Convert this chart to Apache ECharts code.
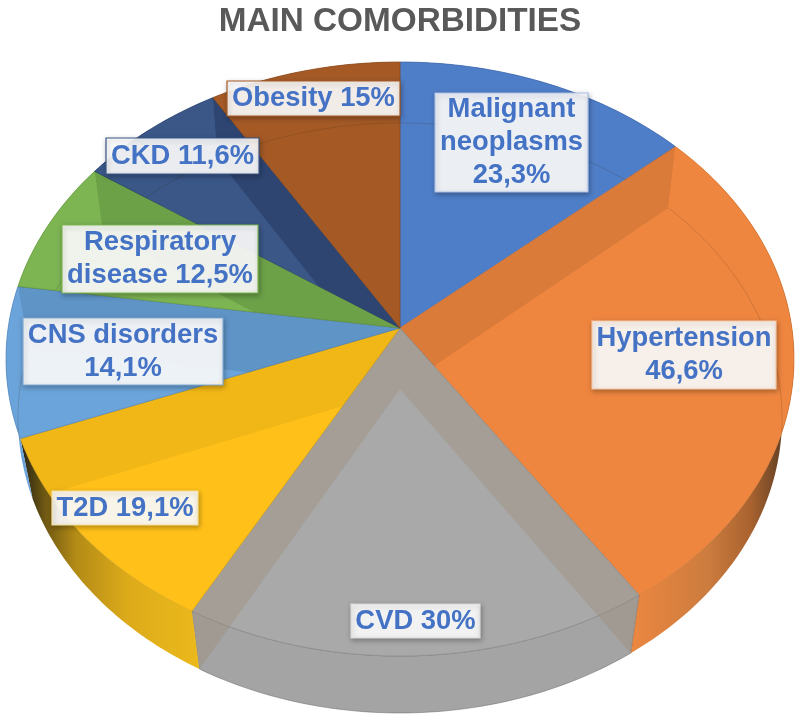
<!DOCTYPE html>
<html><head><meta charset="utf-8">
<style>html,body{margin:0;padding:0;background:#fff}#c{width:800px;height:719px}</style>
<script src="https://cdn.jsdelivr.net/npm/echarts@6/dist/echarts.min.js"></script>
</head><body><div id="c"></div>
<script>
// ---- data ----
const categories = ["Malignant neoplasms","Hypertension","CVD","T2D","CNS disorders","Respiratory disease","CKD","Obesity"];
const values = [23.3,46.6,30,19.1,14.1,12.5,11.6,15];
const labelTexts = ["Malignant\nneoplasms\n23,3%","Hypertension\n46,6%","CVD 30%","T2D 19,1%","CNS disorders\n14,1%","Respiratory\ndisease 12,5%","CKD 11,6%","Obesity 15%"];

// ---- styling / layout ----
const topColors = ["#4F7EC8","#EE8640","#A9A9A9","#FFC119","#6BA4DA","#7DB553","#3A5788","#A55A26"];
const edgeColors = ["#3E66A8","#D9762F","#8A8A8A","#D8A210","#5487BC","#659A42","#2B4370","#8A4A1E"];
const bandColors = ["rgba(70,40,10,.11)","rgba(155,137,115,.35)","rgba(155,137,115,.35)","rgba(120,100,0,.10)","rgba(0,20,50,.11)","rgba(0,30,0,.13)","rgba(0,0,30,.20)","rgba(0,0,0,0)"];
const labelBorders = ["#A9C0E6","#F3C9A8","#D9D9D9","#F5DF9A","#7FA9D2","#7DB553","#3A5788","#A55A26"];
const labelBoxes = [[435,93,153,99],[592,321,184,68],[351,604,129,34],[52,491,146,34],[23,318,200,67],[62,225,196,68],[106,138,153,36],[227,81,173,35]];
// perspective ellipses of the top and bottom faces of the disc
const topFace = {cx:400,cy:359,rx:394,ry:297,d:0.1044};
const botFace = {cx:400,cy:418,rx:382,ry:295,d:0.098};

const total = values.reduce((a,b)=>a+b,0);
const startDeg = i => values.slice(0,i).reduce((a,b)=>a+b,0)/total*360;
function rim(f,deg){
  const t=deg*Math.PI/180,s=Math.sin(t),c=Math.cos(t),den=1+f.d*c;
  return [f.cx+f.rx*s*Math.sqrt(1-f.d*f.d)/den, f.cy-f.ry*(c+f.d)/den];
}
function centre(f){return [f.cx,f.cy-f.ry*f.d];}
function arc(f,a,b){
  const n=Math.max(2,Math.ceil(Math.abs(b-a))),p=[];
  for(let k=0;k<=n;k++)p.push(rim(f,a+(b-a)*k/n));
  return p;
}
function slicePoly(f,i){return [centre(f)].concat(arc(f,startDeg(i),startDeg(i+1)));}
function ownerShape(i){
  const a=startDeg(i),b=startDeg(i+1);
  return [centre(topFace)].concat(arc(topFace,a,a)).concat(arc(botFace,a,b)).concat(arc(topFace,b,b));
}
function wallFill(i){
  if(i===1) return new echarts.graphic.LinearGradient(637,0,795,0,[
    {offset:0,color:"#E98640"},{offset:.45,color:"#CC7C3E"},{offset:.72,color:"#A9622F"},{offset:.9,color:"#6B4526"},{offset:1,color:"#33261A"}],true);
  if(i===3) return new echarts.graphic.LinearGradient(199,0,22,0,[
    {offset:0,color:"#EBB91B"},{offset:.4,color:"#DDAB1A"},{offset:.7,color:"#B28A16"},{offset:.88,color:"#6B5512"},{offset:1,color:"#22201A"}],true);
  if(i===2) return "#A4A4A4";
  return topColors[i];
}
const none=()=>null;
const base={type:"custom",coordinateSystem:"none",silent:true,animation:false,clip:false,data:values.map(v=>[v])};
function layer(z,render){return Object.assign({},base,{z:z,renderItem:render});}

const series=[
  // outer walls
  layer(1,(p)=>{const i=p.dataIndex,a=startDeg(i),b=startDeg(i+1);
    const pts=arc(topFace,a,b).concat(arc(botFace,b,a));
    return {type:"polygon",shape:{points:pts},style:{fill:wallFill(i),stroke:i===2?"rgba(90,90,90,.55)":"rgba(0,0,0,0)",lineWidth:.8}};}),
  // top faces, angles proportional to the values
  layer(2,(p,api)=>{const i=p.dataIndex;
    return {type:"polygon",shape:{points:slicePoly(topFace,i)},style:{fill:topColors[i],stroke:edgeColors[i],lineWidth:.7}};}),
  // radial inner walls seen through the face
  layer(3,(p)=>{const i=p.dataIndex,b=startDeg(i+1)%360;
    const o=b<180&&b>0?(i+1)%values.length:i;
    const pts=[centre(topFace),rim(topFace,b),rim(botFace,b),centre(botFace)];
    return {type:"polygon",shape:{points:pts},
      clipPath:{type:"polygon",shape:{points:ownerShape(o)}},
      style:{fill:bandColors[i]}};}),
  // bottom rim seen through the top face
  layer(4,(p)=>{const i=p.dataIndex,a=startDeg(i),b=startDeg(i+1);
    return {type:"polyline",shape:{points:arc(botFace,a,b)},
      clipPath:{type:"polygon",shape:{points:slicePoly(topFace,i)}},
      style:{fill:"none",stroke:"rgba(60,30,0,.16)",lineWidth:1}};}),
  // labels
  layer(5,(p)=>{const i=p.dataIndex,r=labelBoxes[i];
    return {type:"group",children:[
      {type:"rect",shape:{x:r[0],y:r[1],width:r[2],height:r[3]},
       style:{fill:"rgba(255,255,255,.9)",stroke:labelBorders[i],lineWidth:1.2,shadowBlur:5,shadowColor:"rgba(0,0,0,.3)",shadowOffsetX:1,shadowOffsetY:2}},
      {type:"text",style:{x:r[0]+r[2]/2,y:r[1]+r[3]/2,text:labelTexts[i],align:"center",verticalAlign:"middle",
        font:'bold 27.4px "Liberation Sans", Arial, sans-serif',lineHeight:33,fill:"#4472C4"}}
    ]};})
];

const chart=echarts.init(document.getElementById("c"),null,{renderer:"canvas"});
chart.setOption({
  animation:false,
  backgroundColor:"#fff",
  title:{text:"MAIN COMORBIDITIES",left:"center",top:0,textStyle:{fontFamily:'"Liberation Sans", Arial, sans-serif',fontWeight:"bold",fontSize:33.3,color:"#595959"}},
  tooltip:{show:false},
  series:series
});
</script></body></html>
